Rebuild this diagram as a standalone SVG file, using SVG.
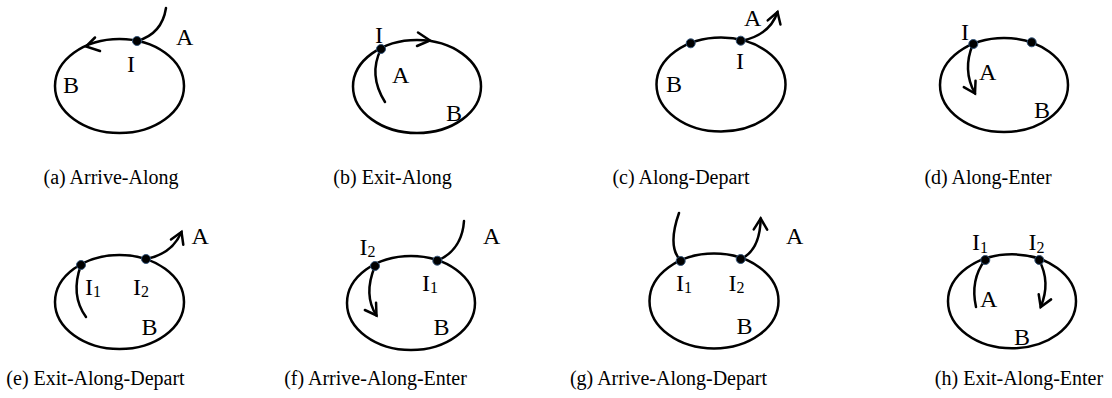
<svg xmlns="http://www.w3.org/2000/svg" width="1112" height="398" viewBox="0 0 1112 398">
<style>
.ell{fill:none;stroke:#000;stroke-width:2.5}
.ln{fill:none;stroke:#000;stroke-width:2.5;stroke-linecap:round}
.arr{marker-end:url(#ah)}
.dot{fill:#000;stroke:#34557a;stroke-width:1}
.lab{font-family:"Liberation Serif","Times New Roman",serif;font-size:24px;fill:#000}
.sub{font-size:16px}
.cap{font-family:"Liberation Serif","Times New Roman",serif;font-size:20px;fill:#000;text-anchor:middle}
</style>
<defs>
<marker id="ah" markerUnits="userSpaceOnUse" viewBox="-14 -10 16 20" refX="0" refY="0" markerWidth="16" markerHeight="20" orient="auto" overflow="visible">
<path d="M-11,-6.7 L0,0 L-11,6.7" fill="none" stroke="#000" stroke-width="2.5" stroke-linecap="round" stroke-linejoin="miter"/>
</marker>
</defs>
<rect width="1112" height="398" fill="#fff"/>

<g id="connectors">
<path class="ln" d="M137,41 Q162,34 166,8"/>
<polyline class="ln" points="95,37.5 86,46.5 100,51"/>
<path class="ln" d="M381,49 Q368,75 385,102"/>
<polyline class="ln" points="418,32.5 430,40.5 417,46"/>
<path class="ln arr" d="M741,41 Q770,35 777.5,12"/>
<path class="ln arr" d="M973,44 Q962,70 975,93.5"/>
<path class="ln" d="M81,265 Q70,295 86,317"/>
<path class="ln arr" d="M146,259 Q172,254 181.5,232"/>
<path class="ln" d="M437,261 Q462,250 464,221"/>
<path class="ln arr" d="M375,266 Q363,295 376.5,315.5"/>
<path class="ln" d="M681,261 C670,250 673,230 679,213"/>
<path class="ln arr" d="M741,259 Q760,250 760.7,218.5"/>
<path class="ln" d="M985,260 Q970,280 976,307"/>
<path class="ln arr" d="M1039,260 Q1051,282 1040.7,307"/>
</g>

<g id="panel-a">
<ellipse class="ell" cx="119.5" cy="86" rx="64.5" ry="47"/>
<circle class="dot" cx="137" cy="41" r="4.5"/>
<text class="lab" x="176" y="45">A</text>
<text class="lab" x="127" y="72">I</text>
<text class="lab" x="63" y="93">B</text>
<text class="cap" x="111" y="184">(a) Arrive-Along</text>
</g>

<g id="panel-b">
<ellipse class="ell" cx="417" cy="86.5" rx="64" ry="46.5"/>
<circle class="dot" cx="381" cy="49" r="4.5"/>
<text class="lab" x="375" y="43">I</text>
<text class="lab" x="392" y="83">A</text>
<text class="lab" x="446" y="121">B</text>
<text class="cap" x="392.5" y="184">(b) Exit-Along</text>
</g>

<g id="panel-c">
<ellipse class="ell" cx="721" cy="84.5" rx="64.5" ry="47"/>
<circle class="dot" cx="690.7" cy="43.3" r="4.5"/>
<circle class="dot" cx="740.7" cy="40.7" r="4.5"/>
<text class="lab" x="744" y="26">A</text>
<text class="lab" x="736" y="69">I</text>
<text class="lab" x="666" y="92">B</text>
<text class="cap" x="681" y="184">(c) Along-Depart</text>
</g>

<g id="panel-d">
<ellipse class="ell" cx="1004" cy="85" rx="64" ry="47"/>
<circle class="dot" cx="973.3" cy="44" r="4.5"/>
<circle class="dot" cx="1031.7" cy="42.3" r="4.5"/>
<text class="lab" x="961" y="39.5">I</text>
<text class="lab" x="979" y="80">A</text>
<text class="lab" x="1034" y="118">B</text>
<text class="cap" x="988" y="184">(d) Along-Enter</text>
</g>

<g id="panel-e">
<ellipse class="ell" cx="119.5" cy="302" rx="64.5" ry="47"/>
<circle class="dot" cx="81" cy="265" r="4.5"/>
<circle class="dot" cx="146" cy="259" r="4.5"/>
<text class="lab" x="85" y="294.5">I<tspan class="sub" dy="2">1</tspan></text>
<text class="lab" x="133" y="294.5">I<tspan class="sub" dy="2">2</tspan></text>
<text class="lab" x="191.5" y="243.5">A</text>
<text class="lab" x="141.5" y="334.5">B</text>
<text class="cap" x="95.5" y="385">(e) Exit-Along-Depart</text>
</g>

<g id="panel-f">
<ellipse class="ell" cx="411" cy="303" rx="64" ry="47"/>
<circle class="dot" cx="375" cy="266" r="4.5"/>
<circle class="dot" cx="437.3" cy="260.7" r="4.5"/>
<text class="lab" x="359.5" y="255">I<tspan class="sub" dy="2">2</tspan></text>
<text class="lab" x="422" y="291">I<tspan class="sub" dy="2">1</tspan></text>
<text class="lab" x="483" y="243.5">A</text>
<text class="lab" x="433.5" y="335">B</text>
<text class="cap" x="375.5" y="385">(f) Arrive-Along-Enter</text>
</g>

<g id="panel-g">
<ellipse class="ell" cx="714" cy="301" rx="64.5" ry="47.5"/>
<circle class="dot" cx="680.7" cy="261" r="4.5"/>
<circle class="dot" cx="740.7" cy="259" r="4.5"/>
<text class="lab" x="676" y="291">I<tspan class="sub" dy="2">1</tspan></text>
<text class="lab" x="728.5" y="291">I<tspan class="sub" dy="2">2</tspan></text>
<text class="lab" x="786" y="243.5">A</text>
<text class="lab" x="736.5" y="333.5">B</text>
<text class="cap" x="668.5" y="385">(g) Arrive-Along-Depart</text>
</g>

<g id="panel-h">
<ellipse class="ell" cx="1012" cy="301.3" rx="64" ry="47"/>
<circle class="dot" cx="985.3" cy="260" r="4.5"/>
<circle class="dot" cx="1039.3" cy="260" r="4.5"/>
<text class="lab" x="972" y="250">I<tspan class="sub" dy="2.5">1</tspan></text>
<text class="lab" x="1028.5" y="250">I<tspan class="sub" dy="2.5">2</tspan></text>
<text class="lab" x="980" y="306.7">A</text>
<text class="lab" x="1014" y="345">B</text>
<text class="cap" x="1019" y="385">(h) Exit-Along-Enter</text>
</g>
</svg>
